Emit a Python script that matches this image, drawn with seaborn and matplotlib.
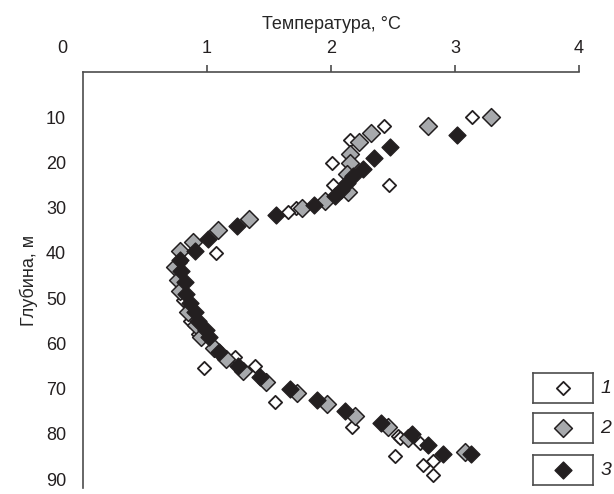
import matplotlib
matplotlib.use("Agg")
import matplotlib.pyplot as plt
import matplotlib.transforms as mtransforms
import seaborn as sns
import pandas as pd

# ---------------------------------------------------------------------------
# Data: temperature (degC) vs depth (m), three series
# ---------------------------------------------------------------------------

temp_1 = [3.14, 2.43, 2.15, 2.01, 2.02, 2.47, 1.72, 1.65, 1.07, 0.78, 0.80,
          0.81, 0.86, 0.93, 1.23, 1.39, 0.98, 1.55, 2.17, 2.54, 2.56, 2.72,
          2.52, 2.82, 2.74, 2.82]
depth_1 = [10, 12, 15, 20, 25, 25, 30, 31, 40, 42, 46,
           50.5, 55, 58, 63, 65, 65.5, 73, 78.5, 80.5, 81, 82,
           85, 86, 87, 89]

temp_2 = [3.29, 2.78, 2.32, 2.23, 2.15, 2.15, 2.13, 2.14, 1.95, 1.77, 1.34,
          1.09, 0.89, 0.78, 0.74, 0.77, 0.78, 0.85, 0.91, 0.95, 1.06, 1.15,
          1.29, 1.48, 1.73, 1.97, 2.19, 2.46, 2.62, 3.08]
depth_2 = [10, 12, 13.5, 15.5, 18, 20, 22.5, 26.5, 28.5, 30, 32.5,
           35, 37.5, 39.5, 43, 46, 48.5, 53, 56, 58.5, 61, 63.5,
           66, 68.5, 71, 73.5, 76, 78.5, 81, 84]

temp_3 = [3.02, 2.48, 2.35, 2.26, 2.18, 2.13, 2.08, 2.03, 1.86, 1.56, 1.24,
          1.01, 0.90, 0.78, 0.79, 0.82, 0.83, 0.86, 0.90, 0.93, 0.99, 1.02,
          1.10, 1.25, 1.43, 1.67, 1.89, 2.11, 2.40, 2.65, 2.78, 2.90, 3.13]
depth_3 = [14, 16.5, 19, 21.5, 23, 24.5, 26, 27.5, 29.5, 31.5, 34,
           37, 39.5, 41.5, 44, 46.5, 49, 51, 53, 55, 57, 58.5,
           62, 65, 67.5, 70, 72.5, 75, 77.5, 80, 82.5, 84.5, 84.5]

series_labels = ["1", "2", "3"]
x_ticks = [0, 1, 2, 3, 4]
y_ticks = [10, 20, 30, 40, 50, 60, 70, 80, 90]

# ---------------------------------------------------------------------------
# Style
# ---------------------------------------------------------------------------

sns.set_style("white")
plt.rcParams["font.family"] = ["Liberation Sans", "DejaVu Sans"]

INK = "#231f20"
GREY = "#a7a9ac"
AXIS = "#4d4d4d"

styles = [
    dict(color="white", s=46, linewidth=1.3),
    dict(color=GREY, s=82, linewidth=1.1),
    dict(color=INK, s=74, linewidth=1.0),
]

fig = plt.figure(figsize=(6.14, 4.94), dpi=100)
ax = fig.add_axes([0.135, 0.012, 0.808, 0.842])

series = [(temp_1, depth_1), (temp_2, depth_2), (temp_3, depth_3)]
for (t, d), st in zip(series, styles):
    df = pd.DataFrame({"t": t, "d": d})
    sns.scatterplot(data=df, x="t", y="d", marker="D", edgecolor=INK,
                    legend=False, ax=ax, zorder=3, **st)

ax.set_xlim(0, 4)
ax.set_ylim(92, 0)
ax.set_xticks(x_ticks)
ax.set_yticks(y_ticks)
ax.xaxis.tick_top()
ax.xaxis.set_label_position("top")
ax.set_xlabel("Температура, °C", fontsize=13, labelpad=8)
ax.set_ylabel("Глубина, м", fontsize=13, labelpad=6)

for side in ["right", "bottom"]:
    ax.spines[side].set_visible(False)
for side in ["left", "top"]:
    ax.spines[side].set_color(AXIS)
    ax.spines[side].set_linewidth(1.2)

ax.tick_params(axis="both", direction="out", length=5, width=1.2,
               color=AXIS, labelsize=13, labelcolor="#231f20")
ax.tick_params(axis="x", pad=6, top=True, bottom=False)
ax.tick_params(axis="y", pad=7)

# no tick mark at 0, and its label moved left off the corner
ax.xaxis.get_major_ticks()[0].tick2line.set_visible(False)
lbl0 = ax.xaxis.get_major_ticks()[0].label2
lbl0.set_transform(lbl0.get_transform() +
                   mtransforms.ScaledTranslation(-0.21, 0, fig.dpi_scale_trans))

# ---------------------------------------------------------------------------
# Boxed legend, one box per series
# ---------------------------------------------------------------------------

box_bottoms = [0.184, 0.103, 0.018]
for lab, st, y0 in zip(series_labels, styles, box_bottoms):
    lax = fig.add_axes([0.868, y0, 0.0977, 0.0607])
    lax.scatter([0], [0], marker="D", facecolor=st["color"], edgecolor=INK,
                s=st["s"], linewidth=st["linewidth"])
    lax.set_xlim(-1, 1)
    lax.set_ylim(-1, 1)
    lax.set_xticks([])
    lax.set_yticks([])
    for sp in lax.spines.values():
        sp.set_color(AXIS)
        sp.set_linewidth(1.2)
    lax.text(1.12, 0.5, lab, transform=lax.transAxes, fontsize=14,
             style="italic", va="center", ha="left", color=INK)

fig.savefig("out.png", dpi=100)
